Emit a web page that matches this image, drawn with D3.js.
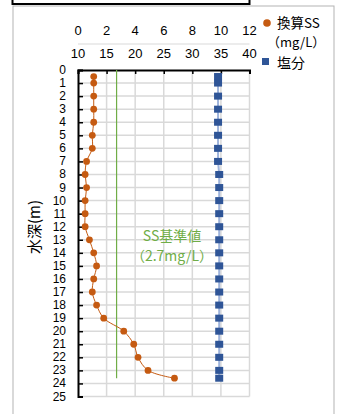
<!DOCTYPE html>
<html><head><meta charset="utf-8">
<script src="https://cdn.jsdelivr.net/npm/d3@7"></script>
<style>body{margin:0;background:#fff}svg{display:block}</style>
</head><body>
<script>
const depthSS = [0.5,1,2,3,4,5,6,7,8,9,10,11,12,13,14,15,16,17,18,19,20,21,22,23,23.6];
const ssValues = [1.1,1.1,1.1,1.1,1.1,1.0,1.0,0.6,0.5,0.6,0.5,0.5,0.5,0.8,1.1,1.3,1.1,1.0,1.3,1.8,3.2,3.9,4.2,4.9,6.75];
const depthSal = [0.5,1,2,3,4,5,6,7,8,9,10,11,12,13,14,15,16,17,18,19,20,21,22,23,23.6];
const salValues = [34.5,34.5,34.5,34.5,34.5,34.5,34.5,34.5,34.7,34.7,34.7,34.7,34.7,34.7,34.7,34.7,34.7,34.7,34.7,34.7,34.7,34.7,34.7,34.7,34.7];
const ssTicks = [0,2,4,6,8,10,12];
const salTicks = [10,15,20,25,30,35,40];
const depthTicks = d3.range(0,26);
const ssStandard = 2.7;
const standardDepth = [0, 23.6];

const W=338,H=414;
const svg=d3.select("body").append("svg").attr("width",W).attr("height",H);
const L=78,R=249.5,T=70,B=396.5;
const x=d3.scaleLinear().domain([0,12]).range([L,R]);
const x2=d3.scaleLinear().domain([10,40]).range([L,R]);
const y=d3.scaleLinear().domain([0,25]).range([T,B]);
const numFont="'Liberation Sans', Arial, sans-serif";
const jpFont="'Noto Sans CJK JP', sans-serif";

// outer frames
svg.append("rect").attr("x",13).attr("y",6).attr("width",321).attr("height",420).attr("fill","none").attr("stroke","#b3b3b3").attr("stroke-width",1);
svg.append("rect").attr("x",12.5).attr("y",-30).attr("width",237).attr("height",34).attr("fill","#fff").attr("stroke","#000").attr("stroke-width",2);

// gridlines
svg.append("g").selectAll("line").data(depthTicks.slice(1)).join("line")
 .attr("x1",L).attr("x2",R).attr("y1",d=>y(d)).attr("y2",d=>y(d)).attr("stroke","#d9d9d9").attr("stroke-width",1.5);
svg.append("g").selectAll("line").data(ssTicks.slice(1)).join("line")
 .attr("x1",d=>x(d)).attr("x2",d=>x(d)).attr("y1",T).attr("y2",B).attr("stroke","#d9d9d9").attr("stroke-width",1.5);

// SS axis (upper)
svg.append("line").attr("x1",L).attr("x2",R).attr("y1",44).attr("y2",44).attr("stroke","#d9d9d9").attr("stroke-width",1);
svg.append("g").selectAll("text").data(ssTicks).join("text")
 .attr("x",d=>x(d)).attr("y",30).attr("text-anchor","middle").attr("dominant-baseline","central")
 .attr("font-family",numFont).attr("font-size",13).attr("fill","#000").text(d=>d);
// salinity axis (plot top)
const topAx=svg.append("g").attr("transform",`translate(0,${T})`).call(d3.axisBottom(x2).tickValues(salTicks).tickSize(4).tickFormat(""));
topAx.select(".domain").attr("stroke","#000").attr("stroke-width",2);
topAx.selectAll(".tick line").attr("stroke","#000").attr("stroke-width",1.5);
svg.append("g").selectAll("text").data(salTicks).join("text")
 .attr("x",d=>x2(d)).attr("y",53).attr("text-anchor","middle").attr("dominant-baseline","central")
 .attr("font-family",numFont).attr("font-size",13).attr("fill","#000").text(d=>d);

// left axis
const lAx=svg.append("g").attr("transform",`translate(${L},0)`).call(d3.axisRight(y).tickValues(depthTicks).tickSize(5).tickFormat(""));
lAx.select(".domain").attr("stroke","#000").attr("stroke-width",2);
lAx.selectAll(".tick line").attr("stroke","#000").attr("stroke-width",1.5);
svg.append("g").selectAll("text").data(depthTicks).join("text")
 .attr("x",66).attr("y",d=>y(d)).attr("text-anchor","end").attr("dominant-baseline","central")
 .attr("font-family",numFont).attr("font-size",12).attr("fill","#000").text(d=>d);

// axis title
svg.append("text").attr("transform","translate(33,227) rotate(-90)").attr("text-anchor","middle").attr("dominant-baseline","central")
 .attr("font-family",jpFont).attr("font-size",15).attr("fill","#000").text("水深(m)");

// standard line
svg.append("line").attr("x1",x(ssStandard)).attr("x2",x(ssStandard)).attr("y1",y(standardDepth[0])).attr("y2",y(standardDepth[1]))
 .attr("stroke","#70ad47").attr("stroke-width",1.2);
svg.append("text").attr("x",172).attr("y",235).attr("text-anchor","middle").attr("dominant-baseline","central")
 .attr("font-family",jpFont).attr("font-size",14).attr("fill","#70ad47").text("SS基準値");
svg.append("text").attr("x",172).attr("y",255).attr("text-anchor","middle").attr("dominant-baseline","central")
 .attr("font-family",jpFont).attr("font-size",14).attr("fill","#70ad47").text("（2.7mg/L）");

// salinity series
const salData=depthSal.map((d,i)=>({d,v:salValues[i]}));
svg.append("path").datum(salData).attr("fill","none").attr("stroke","#9fb4dc").attr("stroke-width",2)
 .attr("d",d3.line().x(p=>x2(p.v)).y(p=>y(p.d)));
svg.append("g").selectAll("rect").data(salData).join("rect")
 .attr("x",p=>x2(p.v)-4).attr("y",p=>y(p.d)-3.5).attr("width",8).attr("height",7).attr("fill","#2f5597");

// SS series
const ssData=depthSS.map((d,i)=>({d,v:ssValues[i]}));
svg.append("path").datum(ssData).attr("fill","none").attr("stroke","#c55a11").attr("stroke-width",1)
 .attr("d",d3.line().curve(d3.curveCatmullRom).x(p=>x(p.v)).y(p=>y(p.d)));
svg.append("g").selectAll("circle").data(ssData).join("circle")
 .attr("cx",p=>x(p.v)).attr("cy",p=>y(p.d)).attr("r",3.4).attr("fill","#c55a11");

// legend
svg.append("circle").attr("cx",267).attr("cy",23).attr("r",3.8).attr("fill","#c55a11");
svg.append("text").attr("x",277).attr("y",22).attr("dominant-baseline","central").attr("font-family",jpFont).attr("font-size",13.5).attr("fill","#000").text("換算SS");
svg.append("text").attr("x",267).attr("y",41.5).attr("dominant-baseline","central").attr("font-family",jpFont).attr("font-size",13).attr("fill","#000").text("（mg/L）");
svg.append("rect").attr("x",262).attr("y",58).attr("width",7).attr("height",7).attr("fill","#2f5597");
svg.append("text").attr("x",277).attr("y",62).attr("dominant-baseline","central").attr("font-family",jpFont).attr("font-size",14).attr("fill","#000").text("塩分");
</script>
</body></html>
